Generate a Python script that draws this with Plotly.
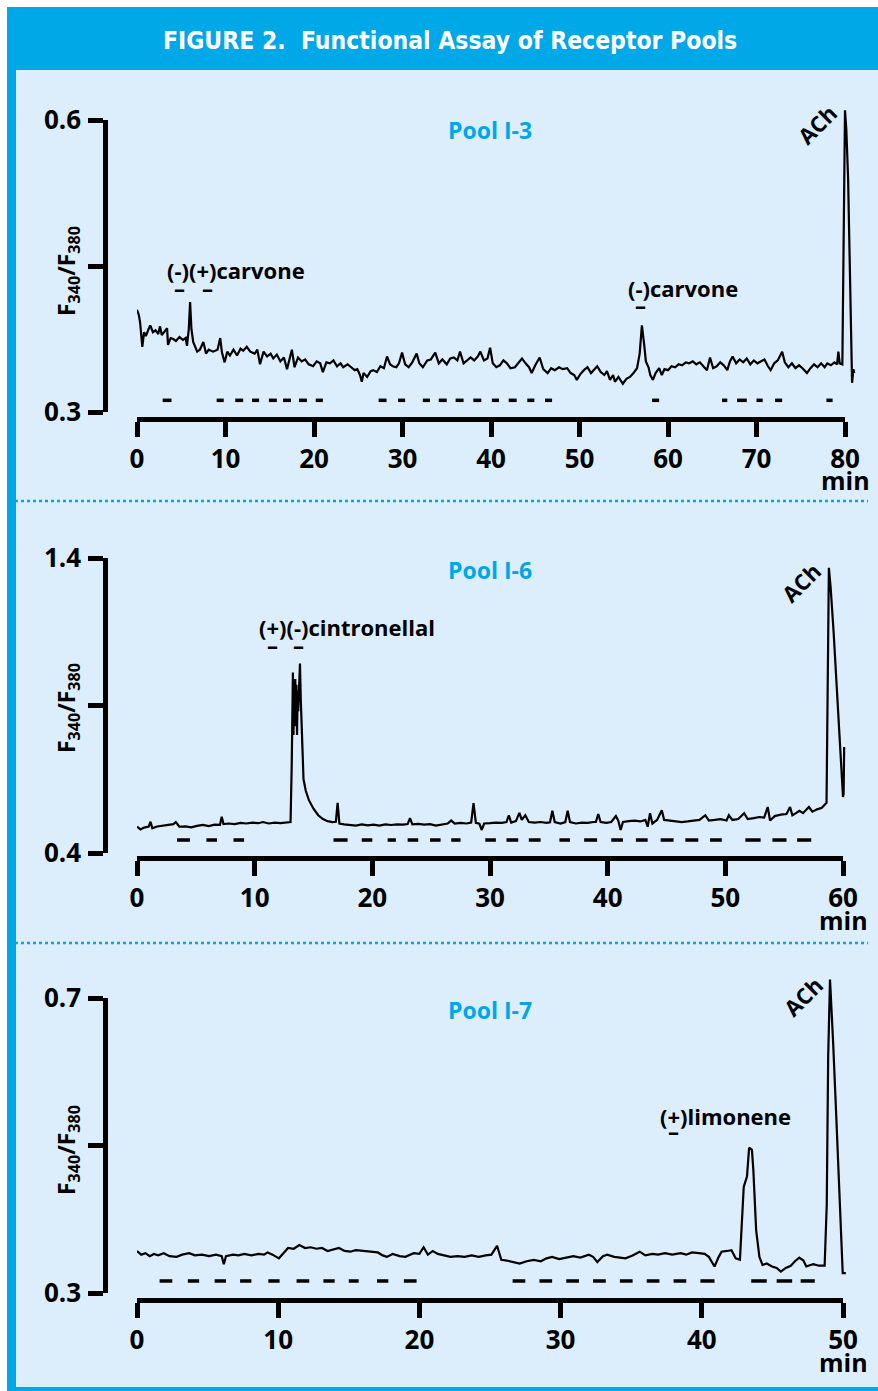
import plotly.graph_objects as go

W, H = 878, 1391
FONT = "Open Sans"
NARROW = "Liberation Sans Narrow, DejaVu Sans Condensed, sans-serif"
BLUE = "#00a8e8"
LIGHT = "#dcedfb"
POOL = "#00a6e6"
PAPER = "white"

# ---------------- Pool I-3 ----------------
p1_time = [
    0.0, 0.2, 0.35, 0.6, 0.8, 1.0, 1.3, 1.5, 1.8, 2.1,
    2.4, 2.6, 2.8, 3.1, 3.4, 3.5, 3.8, 4.1, 4.4, 4.8,
    5.2, 5.5, 5.65, 5.85, 6.0, 6.15, 6.35, 6.8, 7.1, 7.5,
    7.8, 8.1, 8.6, 9.1, 9.4, 9.6, 9.9, 10.2, 10.5, 10.9,
    11.3, 11.7, 12.0, 12.4, 12.8, 13.3, 13.6, 13.9, 14.3, 14.7,
    15.1, 15.4, 15.8, 16.2, 16.6, 16.95, 17.3, 17.5, 17.8, 18.2,
    18.6, 19.0, 19.4, 19.9, 20.3, 20.7, 21.0, 21.4, 21.8, 22.2,
    22.6, 23.0, 23.3, 23.8, 24.2, 24.6, 24.9, 25.2, 25.4, 25.6,
    26.0, 26.4, 26.7, 27.1, 27.5, 27.9, 28.25, 28.6, 28.9, 29.3,
    29.6, 29.95, 30.3, 30.7, 31.1, 31.6, 31.9, 32.3, 32.8, 33.2,
    33.7, 34.1, 34.5, 35.0, 35.4, 35.8, 36.2, 36.5, 36.9, 37.3,
    37.7, 38.1, 38.5, 38.8, 39.2, 39.6, 39.9, 40.2, 40.6, 41.0,
    41.4, 41.8, 42.2, 42.7, 43.1, 43.5, 43.9, 44.3, 44.6, 45.0,
    45.5, 45.9, 46.4, 46.8, 47.2, 47.7, 48.1, 48.6, 49.0, 49.4,
    49.7, 50.1, 50.5, 50.9, 51.3, 51.7, 52.0, 52.4, 52.8, 53.1,
    53.45, 53.8, 54.0, 54.4, 54.9, 55.3, 55.7, 56.1, 56.5, 56.8,
    57.05, 57.3, 57.5, 57.8, 58.0, 58.3, 58.6, 59.0, 59.3, 59.6,
    60.0, 60.4, 60.8, 61.2, 61.6, 62.0, 62.4, 62.8, 63.2, 63.6,
    64.0, 64.4, 64.75, 65.1, 65.5, 65.9, 66.3, 66.7, 67.0, 67.3,
    67.7, 68.1, 68.5, 68.9, 69.3, 69.7, 70.1, 70.5, 70.9, 71.3,
    71.6, 72.0, 72.4, 72.9, 73.2, 73.6, 74.0, 74.4, 74.8, 75.2,
    75.7, 76.1, 76.5, 76.9, 77.3, 77.7, 78.0, 78.4, 78.8, 79.1,
    79.25, 79.4, 79.7, 80.0, 80.15, 80.35, 80.6, 80.8, 80.95, 81.05,
]
p1_ratio = [
    0.405, 0.400, 0.392, 0.367, 0.382, 0.378, 0.385, 0.389, 0.382, 0.384,
    0.380, 0.388, 0.379, 0.382, 0.386, 0.369, 0.376, 0.375, 0.373, 0.377,
    0.374, 0.376, 0.368, 0.385, 0.413, 0.385, 0.372, 0.362, 0.364, 0.372,
    0.360, 0.364, 0.362, 0.364, 0.376, 0.361, 0.351, 0.362, 0.358, 0.364,
    0.358, 0.365, 0.363, 0.367, 0.362, 0.360, 0.364, 0.349, 0.362, 0.357,
    0.360, 0.355, 0.359, 0.352, 0.356, 0.344, 0.357, 0.364, 0.346, 0.356,
    0.352, 0.354, 0.349, 0.347, 0.352, 0.350, 0.341, 0.351, 0.350, 0.353,
    0.347, 0.350, 0.346, 0.349, 0.346, 0.343, 0.344, 0.338, 0.331, 0.340,
    0.336, 0.342, 0.343, 0.341, 0.347, 0.345, 0.357, 0.349, 0.347, 0.346,
    0.350, 0.361, 0.349, 0.346, 0.351, 0.360, 0.350, 0.346, 0.353, 0.354,
    0.361, 0.350, 0.354, 0.349, 0.355, 0.356, 0.353, 0.362, 0.350, 0.353,
    0.356, 0.353, 0.357, 0.362, 0.353, 0.355, 0.366, 0.350, 0.346, 0.348,
    0.353, 0.350, 0.345, 0.346, 0.351, 0.355, 0.350, 0.346, 0.340, 0.348,
    0.356, 0.344, 0.340, 0.345, 0.343, 0.346, 0.344, 0.345, 0.340, 0.338,
    0.333, 0.339, 0.343, 0.346, 0.340, 0.344, 0.347, 0.341, 0.338, 0.342,
    0.333, 0.338, 0.331, 0.336, 0.329, 0.334, 0.336, 0.340, 0.345, 0.360,
    0.389, 0.370, 0.352, 0.346, 0.338, 0.333, 0.340, 0.345, 0.338, 0.344,
    0.343, 0.347, 0.346, 0.349, 0.348, 0.351, 0.350, 0.352, 0.349, 0.351,
    0.347, 0.343, 0.356, 0.345, 0.347, 0.351, 0.348, 0.343, 0.352, 0.357,
    0.350, 0.354, 0.351, 0.355, 0.349, 0.353, 0.350, 0.352, 0.354, 0.347,
    0.343, 0.350, 0.353, 0.362, 0.351, 0.346, 0.350, 0.345, 0.348, 0.345,
    0.340, 0.345, 0.349, 0.346, 0.350, 0.346, 0.350, 0.348, 0.351, 0.349,
    0.362, 0.350, 0.349, 0.610, 0.590, 0.540, 0.420, 0.330, 0.344, 0.340,
]
p1_on = [2.9, 9.0, 11.1, 13.0, 14.9, 16.5, 18.3, 20.2, 27.3, 29.5, 32.3, 34.1,
         36.0, 38.0, 40.1, 42.0, 44.1, 46.1, 58.2, 66.1, 67.8, 70.0, 72.1, 77.9]
p1_off = [3.9, 9.8, 12.0, 13.8, 15.8, 17.4, 19.2, 21.0, 28.2, 30.3, 33.1, 35.0,
          36.9, 38.9, 40.9, 42.9, 44.9, 46.9, 59.0, 66.7, 68.9, 70.7, 72.9, 78.6]
p1_xticks = [0, 10, 20, 30, 40, 50, 60, 70, 80]
p1_yticks = [0.3, 0.45, 0.6]
p1_ylabels = ["0.3", "", "0.6"]

# ---------------- Pool I-6 ----------------
p2_time = [
    0.0, 0.3, 0.6, 1.0, 1.15, 1.3, 1.7, 2.2, 2.7, 3.1,
    3.3, 3.6, 4.1, 4.6, 5.1, 5.6, 6.1, 6.6, 7.05, 7.2,
    7.35, 7.8, 8.3, 8.8, 9.3, 9.8, 10.3, 10.7, 11.2, 11.7,
    12.2, 12.7, 13.05, 13.15, 13.25, 13.3, 13.35, 13.4, 13.45, 13.5,
    13.55, 13.6, 13.65, 13.7, 13.78, 13.85, 13.92,
    14.0, 14.15, 14.35, 14.6, 15.0, 15.4, 15.8, 16.2, 16.6, 16.9,
    17.05, 17.2, 17.6, 18.1, 18.6, 19.1, 19.6, 20.1, 20.6, 21.1,
    21.6, 22.1, 22.6, 23.0, 23.2, 23.4, 23.9, 24.4, 24.9, 25.4,
    25.9, 26.4, 26.7, 27.0, 27.5, 28.0, 28.4, 28.6, 28.8, 29.1,
    29.3, 29.5, 30.0, 30.5, 31.0, 31.4, 31.6, 31.8, 32.2, 32.5,
    32.7, 33.0, 33.3, 33.8, 34.3, 34.8, 35.1, 35.3, 35.5, 36.0,
    36.4, 36.6, 36.8, 37.3, 37.8, 38.3, 38.8, 39.0, 39.2, 39.4,
    39.9, 40.3, 40.7, 40.9, 41.1, 41.3, 41.8, 42.3, 42.8, 43.2,
    43.4, 43.6, 43.8, 44.2, 44.6, 44.8, 45.3, 45.8, 46.3, 46.8,
    47.3, 47.8, 48.3, 48.6, 49.1, 49.6, 50.1, 50.3, 50.6, 51.1,
    51.6, 51.9, 52.4, 52.9, 53.3, 53.6, 53.8, 54.2, 54.7, 55.2,
    55.5, 55.7, 56.0, 56.3, 56.6, 57.1, 57.4, 57.8, 58.2, 58.45,
    58.6, 58.8, 58.95, 59.2, 59.5, 59.8, 60.0, 60.05, 60.1,
]
p2_ratio = [
    0.489, 0.480, 0.486, 0.490, 0.506, 0.484, 0.490, 0.492, 0.496, 0.498,
    0.505, 0.489, 0.490, 0.487, 0.492, 0.495, 0.491, 0.496, 0.495, 0.523,
    0.498, 0.500, 0.498, 0.502, 0.500, 0.503, 0.501, 0.505, 0.500, 0.503,
    0.501, 0.503, 0.505, 0.700, 1.012, 0.800, 0.980, 0.830, 0.990, 0.860,
    0.970, 0.800, 0.950, 0.880, 1.000, 1.042, 0.920,
    0.800, 0.650, 0.610, 0.580, 0.550, 0.528, 0.515, 0.508, 0.505, 0.506,
    0.570, 0.500, 0.497, 0.495, 0.493, 0.497, 0.494, 0.496, 0.493, 0.497,
    0.495, 0.497, 0.496, 0.498, 0.518, 0.497, 0.499, 0.496, 0.498, 0.493,
    0.497, 0.500, 0.510, 0.500, 0.502, 0.500, 0.503, 0.569, 0.502, 0.499,
    0.478, 0.500, 0.501, 0.503, 0.502, 0.505, 0.528, 0.503, 0.508, 0.536,
    0.512, 0.528, 0.505, 0.503, 0.505, 0.502, 0.504, 0.543, 0.505, 0.500,
    0.505, 0.543, 0.505, 0.500, 0.503, 0.502, 0.505, 0.505, 0.532, 0.505,
    0.502, 0.505, 0.525, 0.510, 0.478, 0.505, 0.508, 0.510, 0.507, 0.512,
    0.489, 0.535, 0.500, 0.512, 0.545, 0.512, 0.510, 0.507, 0.505, 0.507,
    0.510, 0.512, 0.528, 0.510, 0.512, 0.515, 0.510, 0.528, 0.512, 0.515,
    0.535, 0.515, 0.518, 0.522, 0.520, 0.556, 0.510, 0.525, 0.530, 0.532,
    0.556, 0.528, 0.535, 0.543, 0.535, 0.556, 0.540, 0.548, 0.553, 0.562,
    0.570, 1.367, 1.300, 1.150, 0.950, 0.750, 0.590, 0.600, 0.759,
]
p2_on = [3.4, 5.9, 8.2, 16.7, 19.1, 21.3, 23.0, 24.9, 26.7, 29.6, 31.4, 33.3,
         35.9, 38.0, 40.3, 42.4, 44.5, 46.6, 48.7, 51.7, 54.0, 56.1]
p2_off = [4.5, 6.8, 9.1, 17.9, 20.0, 22.0, 23.9, 25.8, 27.5, 30.5, 32.4, 34.3,
          36.8, 39.1, 41.3, 43.4, 45.6, 47.7, 49.7, 53.0, 55.2, 57.3]
p2_xticks = [0, 10, 20, 30, 40, 50, 60]
p2_yticks = [0.4, 0.9, 1.4]
p2_ylabels = ["0.4", "", "1.4"]

# ---------------- Pool I-7 ----------------
p3_time = [
    0.0, 0.3, 0.6, 0.9, 1.2, 1.5, 1.9, 2.3, 2.8, 3.2,
    3.7, 4.1, 4.6, 5.1, 5.6, 6.0, 6.15, 6.3, 6.8, 7.2,
    7.6, 8.1, 8.6, 9.0, 9.25, 9.6, 10.05, 10.4, 10.7, 11.1,
    11.5, 11.9, 12.3, 12.7, 13.1, 13.5, 13.9, 14.3, 14.7, 15.1,
    15.5, 16.0, 16.5, 17.05, 17.4, 17.7, 18.1, 18.6, 19.0, 19.3,
    19.6, 20.0, 20.3, 20.6, 20.95, 21.3, 21.7, 22.2, 22.7, 23.2,
    23.7, 24.2, 24.7, 25.1, 25.5, 25.8, 26.2, 26.6, 27.1, 27.6,
    28.1, 28.6, 29.0, 29.4, 29.9, 30.4, 30.9, 31.4, 32.0, 32.3,
    32.6, 33.0, 33.3, 33.8, 34.2, 34.6, 35.1, 35.6, 36.0, 36.5,
    36.9, 37.4, 37.9, 38.5, 38.9, 39.3, 39.8, 40.2, 40.5, 40.9,
    41.2, 41.4, 41.8, 42.1, 42.4, 42.7, 42.97, 43.2, 43.35, 43.55,
    43.65, 43.85, 44.08, 44.3, 44.6, 44.97, 45.3, 45.6, 45.95, 46.3,
    46.6, 46.9, 47.2, 47.4, 47.7, 47.9, 48.3, 48.7, 48.85, 48.95,
    49.08, 49.15, 49.3, 49.5, 49.75, 49.98, 50.2,
]
p3_ratio = [
    0.357, 0.352, 0.354, 0.350, 0.353, 0.351, 0.354, 0.350, 0.349, 0.352,
    0.354, 0.351, 0.352, 0.350, 0.352, 0.350, 0.339, 0.350, 0.352, 0.351,
    0.353, 0.351, 0.353, 0.352, 0.355, 0.352, 0.347, 0.354, 0.361, 0.360,
    0.365, 0.361, 0.362, 0.360, 0.361, 0.357, 0.359, 0.361, 0.357, 0.356,
    0.358, 0.357, 0.356, 0.355, 0.351, 0.349, 0.353, 0.350, 0.349, 0.352,
    0.354, 0.353, 0.362, 0.352, 0.357, 0.353, 0.351, 0.349, 0.350, 0.349,
    0.351, 0.349, 0.351, 0.352, 0.364, 0.345, 0.344, 0.342, 0.340, 0.343,
    0.345, 0.343, 0.347, 0.349, 0.346, 0.348, 0.350, 0.348, 0.352, 0.349,
    0.342, 0.350, 0.352, 0.349, 0.348, 0.347, 0.351, 0.356, 0.351, 0.353,
    0.352, 0.354, 0.352, 0.354, 0.352, 0.355, 0.354, 0.353, 0.349, 0.336,
    0.349, 0.356, 0.357, 0.358, 0.347, 0.345, 0.444, 0.458, 0.497, 0.494,
    0.467, 0.385, 0.349, 0.338, 0.340, 0.336, 0.334, 0.329, 0.334, 0.337,
    0.343, 0.348, 0.344, 0.336, 0.338, 0.339, 0.337, 0.337, 0.420, 0.620,
    0.725, 0.700, 0.640, 0.550, 0.420, 0.327, 0.327,
]
p3_on = [1.6, 3.6, 5.5, 7.3, 9.3, 11.3, 13.2, 15.0, 17.0, 18.9,
         26.6, 28.5, 30.4, 32.3, 34.2, 36.1, 38.0, 39.9, 43.5, 45.3, 47.0]
p3_off = [2.5, 4.4, 6.3, 8.1, 10.1, 12.2, 14.0, 15.7, 17.8, 19.8,
          27.5, 29.4, 31.3, 33.2, 35.1, 37.0, 38.9, 40.9, 44.6, 46.4, 48.0]
p3_xticks = [0, 10, 20, 30, 40, 50]
p3_yticks = [0.3, 0.5, 0.7]
p3_ylabels = ["0.3", "", "0.7"]


def fx(p):
    return p / W


def fy(p):
    return 1 - p / H


panels = [
    dict(t=p1_time, v=p1_ratio, on=p1_on, off=p1_off, stim=0.312,
         xt=p1_xticks, yt=p1_yticks, yl=p1_ylabels,
         x0=137, x1=845, xd1=862, yb=412, ytop=120, ydt=95, xline=419,
         lab_y=455, ytitle_y=271),
    dict(t=p2_time, v=p2_ratio, on=p2_on, off=p2_off, stim=0.444,
         xt=p2_xticks, yt=p2_yticks, yl=p2_ylabels,
         x0=137, x1=843, xd1=857, yb=853, ytop=558, ydt=545, xline=858,
         lab_y=895, ytitle_y=708),
    dict(t=p3_time, v=p3_ratio, on=p3_on, off=p3_off, stim=0.3163,
         xt=p3_xticks, yt=p3_yticks, yl=p3_ylabels,
         x0=137, x1=843, xd1=857, yb=1293, ytop=998, ydt=970, xline=1300,
         lab_y=1337, ytitle_y=1150),
]

fig = go.Figure()
layout = {}
annotations = []
tickfont = dict(family=FONT, size=26, color="black", weight="bold")

for i, p in enumerate(panels):
    vi = 2 * i + 1
    di = 2 * i + 2
    vx = "x" if vi == 1 else f"x{vi}"
    vy = "y" if vi == 1 else f"y{vi}"
    dx, dy = f"x{di}", f"y{di}"
    xmax = p["xt"][-1]
    ymin, ymax = p["yt"][0], p["yt"][-1]
    xr = xmax * (p["xd1"] - p["x0"]) / (p["x1"] - p["x0"])
    yr = ymin + (ymax - ymin) * (p["yb"] - p["ydt"]) / (p["yb"] - p["ytop"])

    layout["xaxis" if vi == 1 else f"xaxis{vi}"] = dict(
        domain=[fx(p["x0"]), fx(p["x1"])], range=[0, xmax], anchor="free",
        position=fy(p["xline"]), showline=True, linewidth=4.5, linecolor="black",
        ticks="outside", ticklen=15, tickwidth=4.5, tickcolor="black",
        tickvals=p["xt"], ticktext=[str(v) for v in p["xt"]], tickfont=tickfont,
        showgrid=False, zeroline=False, fixedrange=True, ticklabelstandoff=0,
        automargin=False)
    layout["yaxis" if vi == 1 else f"yaxis{vi}"] = dict(
        domain=[fy(p["yb"]), fy(p["ytop"])], range=[ymin, ymax], anchor="free",
        position=fx(105), showline=True, linewidth=4.5, linecolor="black",
        ticks="outside", ticklen=15, tickwidth=4.5, tickcolor="black",
        tickvals=p["yt"], ticktext=p["yl"], tickfont=tickfont,
        showgrid=False, zeroline=False, fixedrange=True, ticklabelstandoff=2,
        automargin=False)
    layout[f"xaxis{di}"] = dict(domain=[fx(p["x0"]), fx(p["xd1"])], range=[0, xr],
                                anchor=dy, visible=False, fixedrange=True,
                                automargin=False)
    layout[f"yaxis{di}"] = dict(domain=[fy(p["yb"]), fy(p["ydt"])], range=[ymin, yr],
                                anchor=dx, visible=False, fixedrange=True,
                                automargin=False)

    fig.add_trace(go.Scatter(x=[], y=[], xaxis=vx, yaxis=vy, showlegend=False,
                             hoverinfo="skip"))
    fig.add_trace(go.Scatter(x=p["t"], y=p["v"], xaxis=dx, yaxis=dy, mode="lines",
                             line=dict(color="black", width=2.2), showlegend=False,
                             hoverinfo="skip"))
    sx, sy = [], []
    for a, b in zip(p["on"], p["off"]):
        sx += [a, b, None]
        sy += [p["stim"], p["stim"], None]
    fig.add_trace(go.Scatter(x=sx, y=sy, xaxis=dx, yaxis=dy, mode="lines",
                             line=dict(color="black", width=3.5), showlegend=False,
                             hoverinfo="skip"))

    annotations.append(dict(x=fx(p["x1"]), y=fy(p["lab_y"] + 25), xref="paper",
                            yref="paper", text="min", showarrow=False,
                            xanchor="center", yanchor="middle",
                            font=dict(family=FONT, size=25, color="black",
                                      weight="bold")))
    annotations.append(dict(x=fx(67), y=fy(p["ytitle_y"]), xref="paper", yref="paper",
                            text="F<sub>340</sub>/F<sub>380</sub>", textangle=-90,
                            showarrow=False, xanchor="center", yanchor="middle",
                            font=dict(family=FONT, size=23, color="black",
                                      weight="bold")))

lab_font = dict(family=FONT, size=22, color="black", weight="bold")
pool_font = dict(family=FONT, size=23, color=POOL, weight="bold")


def note(x, y, text, font, xanchor="center", **kw):
    d = dict(x=fx(x), y=fy(y), xref="paper", yref="paper", text=text,
             showarrow=False, font=font, xanchor=xanchor, yanchor="middle")
    d.update(kw)
    annotations.append(d)


note(450, 40, "FIGURE 2.\u00a0 Functional Assay of Receptor Pools",
     dict(family=NARROW, size=24.5, color="white", weight="bold"))

note(490, 130, "Pool I-3", pool_font)
note(490, 570, "Pool I-6", pool_font)
note(490, 1010, "Pool I-7", pool_font)

note(165, 270, "(-)(+)carvone", lab_font, xanchor="left")
note(179, 288, "\u2013", lab_font)
note(207, 288, "\u2013", lab_font)
note(626, 288, "(-)carvone", lab_font, xanchor="left")
note(640, 305, "\u2013", lab_font)
note(817, 124, "ACh", lab_font, textangle=-45)

note(257, 627, "(+)(-)cintronellal", lab_font, xanchor="left")
note(272, 645, "\u2013", lab_font)
note(298, 645, "\u2013", lab_font)
note(801, 582, "ACh", lab_font, textangle=-45)

note(658, 1116, "(+)limonene", lab_font, xanchor="left")
note(673, 1131, "\u2013", lab_font)
note(803, 996, "ACh", lab_font, textangle=-45)

shapes = [
    dict(type="rect", xref="paper", yref="paper", x0=fx(7), x1=1, y0=0, y1=fy(7),
         fillcolor=BLUE, line=dict(width=0), layer="below"),
    dict(type="rect", xref="paper", yref="paper", x0=fx(16), x1=1, y0=fy(1387),
         y1=fy(70), fillcolor=LIGHT, line=dict(width=0), layer="below"),
    dict(type="line", xref="paper", yref="paper", x0=fx(15), x1=fx(868), y0=fy(501),
         y1=fy(501), line=dict(color=BLUE, width=2.5, dash="dot"), layer="below"),
    dict(type="line", xref="paper", yref="paper", x0=fx(15), x1=fx(868), y0=fy(943),
         y1=fy(943), line=dict(color=BLUE, width=2.5, dash="dot"), layer="below"),
]

fig.update_layout(
    width=W, height=H, margin=dict(l=0, r=0, t=0, b=0, autoexpand=False),
    paper_bgcolor=PAPER, plot_bgcolor="rgba(0,0,0,0)",
    annotations=annotations, shapes=shapes, hovermode=False, **layout)

pin = ("document.body.style.margin='0';document.body.style.overflow='hidden';"
       "var d=document.getElementById('{plot_id}');"
       "d.style.position='fixed';d.style.left='0px';d.style.top='0px';")
fig.write_html("out.html", config={"displayModeBar": False}, post_script=pin)
